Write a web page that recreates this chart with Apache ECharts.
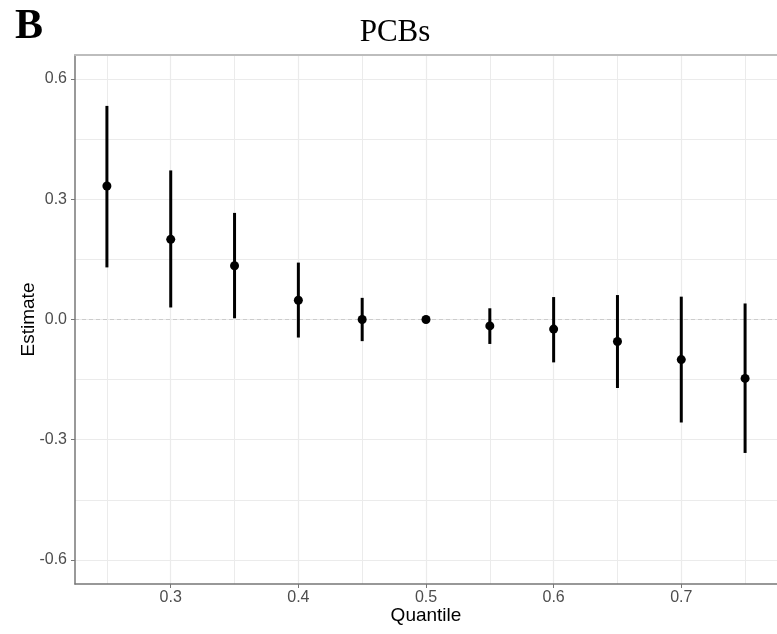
<!DOCTYPE html>
<html>
<head>
<meta charset="utf-8">
<script src="https://cdn.jsdelivr.net/npm/echarts@6/dist/echarts.min.js"></script>
<style>
  html, body { margin: 0; padding: 0; background: #fff; }
  #chart { width: 777px; height: 634px; }
</style>
</head>
<body>
<div id="chart"></div>
<script>
// Quantile regression estimates with confidence intervals (PCBs)
var quantiles = [0.25, 0.30, 0.35, 0.40, 0.45, 0.50, 0.55, 0.60, 0.65, 0.70, 0.75];
var estimates = [0.333, 0.200, 0.134, 0.048, 0.000, 0.000, -0.016, -0.024, -0.055, -0.100, -0.147];
var lowerCI   = [0.130, 0.030, 0.003, -0.045, -0.054, 0.000, -0.061, -0.107, -0.171, -0.257, -0.333];
var upperCI   = [0.533, 0.372, 0.266, 0.142, 0.054, 0.000, 0.028, 0.056, 0.061, 0.057, 0.040];

// Axis ticks and grid lines
var xTicks = [0.3, 0.4, 0.5, 0.6, 0.7];
var xMinorGrid = [0.25, 0.35, 0.45, 0.55, 0.65, 0.75];
var yTicks = [-0.6, -0.3, 0.0, 0.3, 0.6];
var yMinorGrid = [-0.45, -0.15, 0.15, 0.45];
var xRange = [0.225, 0.775];
var yRange = [-0.66, 0.66];

var intervalData = quantiles.map(function (q, i) { return [q, lowerCI[i], upperCI[i]]; });
var pointData = quantiles.map(function (q, i) { return [q, estimates[i]]; });

function gridLines(axisKey, values, width) {
  return values.map(function (v) {
    var o = { lineStyle: { color: '#ebebeb', width: width, type: 'solid' } };
    o[axisKey] = v;
    return o;
  });
}

var chart = echarts.init(document.getElementById('chart'), null, { renderer: 'canvas' });

var axisLabelStyle = { color: '#4d4d4d', fontSize: 16, fontFamily: 'Liberation Sans, Arial, sans-serif' };

chart.setOption({
  animation: false,
  backgroundColor: '#ffffff',
  title: [
    {
      text: 'B', left: 10, top: 1,
      textStyle: { fontFamily: 'Liberation Serif, Times New Roman, serif', fontWeight: 'bold', fontSize: 42, color: '#000' }
    },
    {
      text: 'PCBs', left: 390, top: 12, textAlign: 'center',
      textStyle: { fontFamily: 'Liberation Serif, Times New Roman, serif', fontWeight: 'normal', fontSize: 31, color: '#000' }
    }
  ],
  grid: { left: 75, right: 0, top: 55, bottom: 50, containLabel: false, outerBoundsMode: 'none' },
  xAxis: [
    {
      type: 'value', min: xRange[0], max: xRange[1], position: 'bottom',
      name: 'Quantile', nameLocation: 'middle', nameGap: 22, nameMoveOverlap: false,
      nameTextStyle: { color: '#000', fontSize: 19, fontFamily: 'Liberation Sans, Arial, sans-serif' },
      axisLine: { show: true, onZero: false, lineStyle: { color: '#777', width: 1.5 } },
      axisTick: { show: true, length: 4, customValues: xTicks, lineStyle: { color: '#777', width: 1 } },
      axisLabel: Object.assign({ customValues: xTicks, margin: 6, formatter: function (v) { return v.toFixed(1); } }, axisLabelStyle),
      splitLine: { show: false }
    },
    {
      type: 'value', min: xRange[0], max: xRange[1], position: 'top',
      axisLine: { show: true, onZero: false, lineStyle: { color: '#bdbdbd', width: 2 } },
      axisTick: { show: false }, axisLabel: { show: false }, splitLine: { show: false }
    }
  ],
  yAxis: {
    type: 'value', min: yRange[0], max: yRange[1],
    name: 'Estimate', nameLocation: 'middle', nameGap: 37, nameMoveOverlap: false,
    nameTextStyle: { color: '#000', fontSize: 19, fontFamily: 'Liberation Sans, Arial, sans-serif' },
    axisLine: { show: true, onZero: false, lineStyle: { color: '#777', width: 1.5 } },
    axisTick: { show: true, length: 4, customValues: yTicks, lineStyle: { color: '#777', width: 1 } },
    axisLabel: Object.assign({ customValues: yTicks, margin: 8, formatter: function (v) { return v.toFixed(1); } }, axisLabelStyle),
    splitLine: { show: false }
  },
  series: [
    {
      // panel grid lines and the dashed zero reference
      type: 'line', data: [], silent: true, z: 0,
      markLine: {
        silent: true, symbol: 'none', animation: false, z: 0,
        label: { show: false },
        emphasis: { disabled: true },
        data: []
          .concat(gridLines('xAxis', xMinorGrid, 1))
          .concat(gridLines('xAxis', xTicks, 1.2))
          .concat(gridLines('yAxis', yMinorGrid, 1))
          .concat(gridLines('yAxis', yTicks, 1.2))
          .concat([{ yAxis: 0, lineStyle: { color: '#cccccc', width: 1, type: [4, 3] } }])
      }
    },
    {
      type: 'custom', data: intervalData, z: 6,
      encode: { x: 0, y: [1, 2] },
      renderItem: function (params, api) {
        var top = api.coord([api.value(0), api.value(2)]);
        var bottom = api.coord([api.value(0), api.value(1)]);
        return {
          type: 'line',
          shape: { x1: top[0], y1: top[1], x2: bottom[0], y2: bottom[1] },
          style: { stroke: '#000', lineWidth: 3 }
        };
      }
    },
    {
      type: 'scatter', data: pointData, z: 7,
      symbol: 'circle', symbolSize: 9,
      itemStyle: { color: '#000', opacity: 1 }
    }
  ]
});
</script>
</body>
</html>
